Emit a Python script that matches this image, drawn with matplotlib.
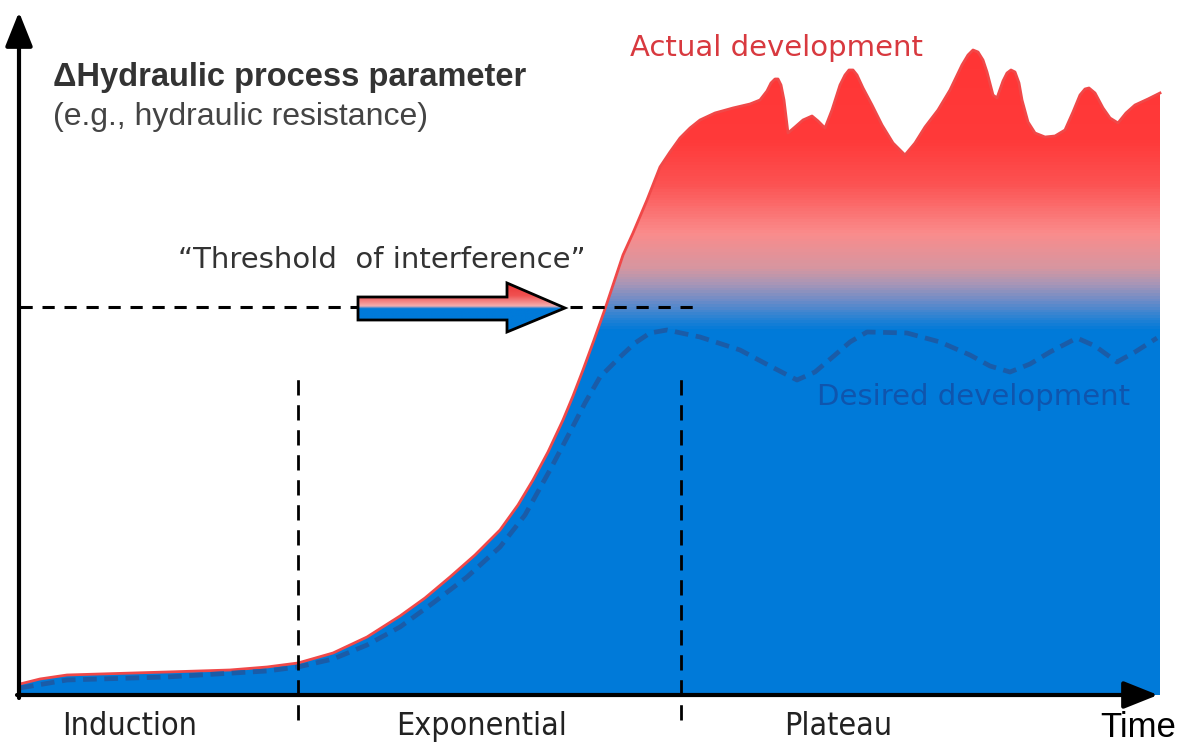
import matplotlib
matplotlib.use('Agg')
import matplotlib.pyplot as plt
from matplotlib.colors import LinearSegmentedColormap
from matplotlib.patches import Polygon
import numpy as np

# time axis (arbitrary units) and parameter value above baseline
actual_t = [20, 40, 67, 100, 167, 230, 267, 298, 333, 367, 400, 425, 450, 475, 500, 518,
            533, 548, 563, 573, 583, 594, 605, 614, 623, 633, 647, 660, 670, 680, 690, 700,
            715, 733, 750, 760, 767, 771, 775, 778, 781, 784, 788, 795, 803, 812, 818, 825, 832,
            840, 845, 849, 853, 857, 863, 872, 882, 893, 905, 915, 925, 938, 950, 962, 968, 973,
            978, 983, 987, 993, 997, 1003, 1007, 1011, 1015, 1019, 1022, 1028, 1035, 1045, 1055,
            1065, 1073, 1080, 1085, 1089, 1095, 1103, 1110, 1118, 1126, 1135, 1148, 1160]
actual_v = [11, 16, 20, 21, 23, 25, 28, 32, 42, 58, 79, 97, 118, 140, 165, 190,
            215, 243, 275, 299, 325, 355, 386, 413, 440, 462, 495, 528, 543, 557, 567, 575,
            582, 587, 591, 595, 604, 612, 616, 616, 610, 595, 562, 568, 575, 579, 574, 567, 585,
            610, 620, 625, 625, 620, 607, 590, 570, 552, 540, 552, 568, 585, 605, 630, 640, 645,
            643, 635, 623, 600, 597, 614, 622, 625, 623, 612, 595, 573, 562, 558, 559,
            565, 583, 600, 606, 607, 602, 587, 577, 572, 582, 590, 596, 602]

desired_t = [20, 67, 167, 267, 298, 333, 367, 400, 433, 467, 500, 525, 550, 570, 585, 600,
             620, 635, 650, 667, 700, 740, 770, 797, 815, 835, 850, 867, 907, 940, 970, 990,
             1010, 1030, 1050, 1077, 1095, 1117, 1135, 1157]
desired_v = [7, 15, 18, 24, 28, 36, 50, 68, 92, 118, 148, 180, 225, 263, 292, 318,
             338, 352, 362, 365, 358, 345, 329, 315, 323, 340, 353, 363, 362, 353, 340, 329,
             323, 331, 343, 357, 349, 333, 343, 357]

threshold = 388
phase_edges = [298, 681]
phase_names = ["Induction", "Exponential", "Plateau"]
phase_label_x = [130, 482, 838]

fig = plt.figure(figsize=(11.79, 7.44), dpi=100)
ax = fig.add_axes([0, 0, 1, 1])
ax.axis('off')

# gradient fill under the actual curve
stops = [(0, (0/255, 122/255, 217/255)), (365, (0/255, 122/255, 217/255)),
         (377, (40/255, 130/255, 212/255)), (395, (110/255, 140/255, 200/255)),
         (412, (170/255, 150/255, 182/255)), (428, (215/255, 150/255, 160/255)),
         (462, (250/255, 140/255, 140/255)), (512, (252/255, 82/255, 82/255)),
         (555, (255/255, 58/255, 58/255)), (700, (255/255, 50/255, 50/255))]
cmap = LinearSegmentedColormap.from_list("fillgrad", [(h / 700, c) for h, c in stops])
grad = np.linspace(0, 700, 700).reshape(-1, 1)
im = ax.imshow(grad, cmap=cmap, vmin=0, vmax=700, origin='lower', aspect='auto',
               extent=[actual_t[0], actual_t[-1], 0, 700], zorder=1)
verts = [(actual_t[0], 0)] + list(zip(actual_t, actual_v)) + [(actual_t[-1], 0)]
clip = Polygon(verts, closed=True, facecolor='none', edgecolor='none')
ax.add_patch(clip)
im.set_clip_path(clip)

ax.plot(actual_t, actual_v, color='#f04848', lw=2, zorder=3, solid_joinstyle='round')
ax.plot(desired_t, desired_v, color='#1a5ca8', lw=3.4, ls=(0, (2.9, 1.6)), zorder=3)

# threshold and phase separators
ax.plot([20, 700], [threshold, threshold], color='black', lw=2.2, ls=(0, (4, 3.2)), zorder=4)
for xe in phase_edges:
    ax.plot([xe, xe], [-25, 325], color='black', lw=2, ls=(0, (5.5, 3.5)), zorder=4)

# threshold arrow
a0, a1, head = 358, 565, 507
arrow = [(a0, threshold + 10), (head, threshold + 10), (head, threshold + 24), (a1, threshold - 1),
         (head, threshold - 25), (head, threshold - 13), (a0, threshold - 13)]
acmap = LinearSegmentedColormap.from_list("arrowgrad", [
    (0.0, (0/255, 122/255, 217/255)), (0.48, (0/255, 122/255, 217/255)),
    (0.53, (245/255, 175/255, 175/255)), (0.75, (240/255, 80/255, 80/255)),
    (1.0, (235/255, 55/255, 55/255))])
aim = ax.imshow(np.linspace(0, 1, 100).reshape(-1, 1), cmap=acmap, origin='lower', aspect='auto',
                extent=[a0, a1, threshold - 25, threshold + 24], zorder=5)
apoly = Polygon(arrow, closed=True, facecolor='none', edgecolor='black', lw=2, zorder=6,
                joinstyle='miter')
ax.add_patch(apoly)
aim.set_clip_path(apoly)

ax.set_xlim(0, 1179)
ax.set_ylim(-49, 695)

# axes arrows
ax.annotate('', xy=(19, 683), xytext=(19, -3),
            arrowprops=dict(arrowstyle='-|>,head_length=0.7,head_width=0.28', lw=3,
                            color='black', mutation_scale=30, shrinkA=0, shrinkB=0), zorder=7)
ax.annotate('', xy=(1158, 0), xytext=(17, 0),
            arrowprops=dict(arrowstyle='-|>,head_length=0.7,head_width=0.28', lw=3,
                            color='black', mutation_scale=30, shrinkA=0, shrinkB=0), zorder=7)

# texts
ax.text(53, 609, u"\u0394Hydraulic process parameter", fontsize=23.5, fontweight='bold',
        family='Liberation Sans', color='#333333', va='baseline')
ax.text(53, 570, "(e.g., hydraulic resistance)", fontsize=23, family='Liberation Sans',
        color='#444444', va='baseline')
ax.text(630, 639, "Actual development", fontsize=21, family='DejaVu Sans',
        color='#d8393f', va='baseline')
ax.text(178, 427, u"\u201cThreshold  of interference\u201d", fontsize=21, family='DejaVu Sans',
        color='#333333', va='baseline')
ax.text(817, 290, "Desired development", fontsize=21, family='DejaVu Sans',
        color='#0f55ad', va='baseline')
for name, xl in zip(phase_names, phase_label_x):
    ax.text(xl, -40, name, fontsize=23, family='DejaVu Sans', fontstretch='condensed',
            color='#222222', ha='center', va='baseline')
ax.text(1176, -42, "Time", fontsize=25, family='Liberation Sans',
        color='black', ha='right', va='baseline')

plt.savefig("out.png", dpi=100)
